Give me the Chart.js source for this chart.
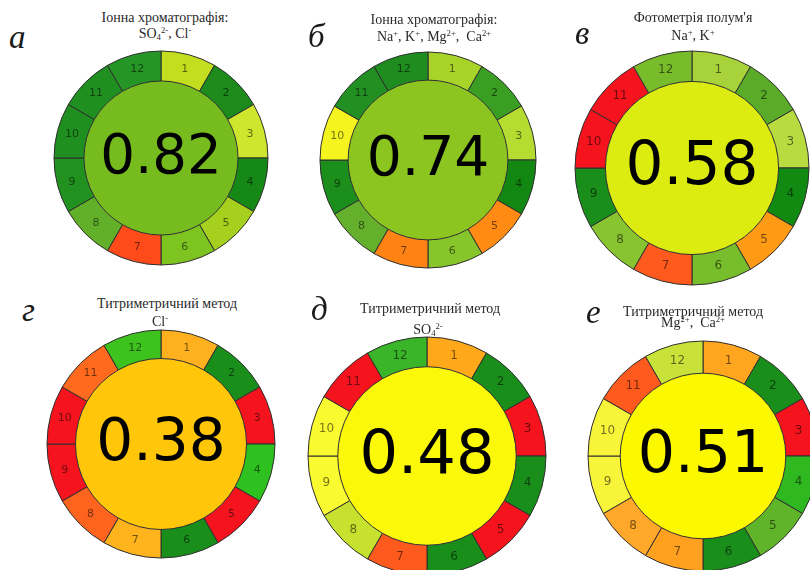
<!DOCTYPE html>
<html>
<head>
<meta charset="utf-8">
<script src="https://cdn.jsdelivr.net/npm/chart.js@4.4.1/dist/chart.umd.min.js"></script>
<style>
  html, body { margin: 0; padding: 0; background: #ffffff; }
  #stage { position: relative; width: 810px; height: 570px; overflow: hidden; background: #fff; }
  .cv { position: absolute; }
  .letter { position: absolute; font-family: "Liberation Serif", "DejaVu Serif", serif; font-style: italic; font-size: 33px; color: #1a1a1a; line-height: 1; }
  .ttl { position: absolute; transform: translate(-50%, -50%); white-space: pre; font-family: "Liberation Serif", "DejaVu Serif", serif; font-size: 14px; color: #2a2a2a; line-height: 1; }
  .ttl sup, .ttl sub { font-size: 0.62em; line-height: 0; }
  .ttl sup { vertical-align: 0.55em; }
  .ttl sub { vertical-align: -0.25em; }
</style>
</head>
<body>
<div id="stage"></div>
<script>
// ---------------- DATA ----------------
const segmentLabels = ['1','2','3','4','5','6','7','8','9','10','11','12'];
const segmentWeights = [1,1,1,1,1,1,1,1,1,1,1,1];
const panelLetters = ['а','б','в','г','д','е'];
const overallScores = [0.82, 0.74, 0.58, 0.38, 0.48, 0.51];
const titleLine1 = [
  'Іонна хроматографія:',
  'Іонна хроматографія:',
  'Фотометрія полум\'я',
  'Титриметричний метод',
  'Титриметричний метод',
  'Титриметричний метод'
];
const titleLine2 = [
  'SO<sub>4</sub><sup>2-</sup>, Cl<sup>-</sup>',
  'Na<sup>+</sup>, K<sup>+</sup>, Mg<sup>2+</sup>,  Ca<sup>2+</sup>',
  'Na<sup>+</sup>, K<sup>+</sup>',
  'Cl<sup>-</sup>',
  'SO<sub>4</sub><sup>2-</sup>',
  'Mg<sup>2+</sup>,  Ca<sup>2+</sup>'
];

// ---------------- STYLES (colours) ----------------
const segColorsA = ['#c2de1e','#1c8b1c','#cfe62e','#168816','#a6d01e','#7ec421','#ff4a1a','#62b02a','#21921f','#1f901f','#1f901f','#259626'];
const segColorsB = ['#a8d42a','#3a9e23','#b5dc30','#128812','#ff8a14','#86c62a','#ff8214','#64b02c','#1c8e1c','#f6f41e','#228f22','#1e8c1e'];
const segColorsC = ['#a8d23a','#5aac28','#b8dc40','#108a10','#ff9a14','#78be2c','#ff5a1e','#88c430','#1a8e1a','#f5141e','#f5141e','#78bc2c'];
const segColorsD = ['#ffb01e','#1a8e1a','#f5141e','#2ec01e','#f5141e','#1a8e1a','#ffb41e','#ff641e','#f5141e','#f5141e','#ff6a1e','#3ec21e'];
const segColorsE = ['#ffa81a','#1a8e1a','#f5141e','#1a8e1a','#f5141e','#1a8e1a','#ff5a1e','#c6e22e','#fafa30','#fafa30','#f5141e','#3ab428'];
const segColorsF = ['#ffa51e','#1a8e1a','#f5141e','#30b820','#60b42a','#1a8e1a','#ffa01e','#ffa82a','#f8f43a','#f8f43a','#ff5a1e','#c8e23a'];
const segColorSets = [segColorsA, segColorsB, segColorsC, segColorsD, segColorsE, segColorsF];
const centerColors = ['#77bc1e','#8cc520','#dcec10','#ffc60a','#fcf80a','#fcf800'];

// ---------------- LAYOUT ----------------
const panelCenters = [[161,158],[428,160],[692,168],[161,444],[427,456],[703,456]];
const panelRadii = [107, 108, 117, 114, 119, 115];
const innerRatio = [0.72, 0.74, 0.74, 0.75, 0.75, 0.72];
const letterPos = [[9,21],[308,20],[575,17],[22,294],[311,293],[586,296]];
const title1Pos = [[165,18],[434,20],[693,18],[167,304],[430,309],[693,312]];
const title2Pos = [[165,34],[434,37],[693,36],[160,322],[428,330],[693,323]];

const stage = document.getElementById('stage');

const labelPlugin = {
  id: 'agreeText',
  afterDatasetsDraw(chart) {
    const ctx = chart.ctx;
    const ring = chart.getDatasetMeta(0);
    const R = ring.data[0].outerRadius;
    ctx.save();
    ctx.textAlign = 'center';
    ctx.textBaseline = 'middle';
    ctx.fillStyle = 'rgba(0,0,0,0.55)';
    ctx.font = Math.round(R * 0.1) + 'px "DejaVu Sans", sans-serif';
    ring.data.forEach((arc, i) => {
      const p = arc.getProps(['x','y','startAngle','endAngle','innerRadius','outerRadius'], true);
      const a = (p.startAngle + p.endAngle) / 2;
      const r = (p.innerRadius + p.outerRadius) / 2;
      ctx.fillText(chart.data.labels[i], p.x + Math.cos(a) * r, p.y + Math.sin(a) * r);
    });
    const disc = chart.getDatasetMeta(1).data[0];
    const F = R * 0.51;
    ctx.fillStyle = '#000';
    ctx.textBaseline = 'alphabetic';
    ctx.font = F.toFixed(1) + 'px "DejaVu Sans", sans-serif';
    ctx.fillText(chart.options.plugins.agreeText.score.toFixed(2), disc.x, disc.y + 0.275 * F);
    ctx.restore();
  }
};

for (let k = 0; k < 6; k++) {
  const R = panelRadii[k];
  const size = Math.ceil(2 * R + 6);
  const cv = document.createElement('canvas');
  cv.className = 'cv';
  cv.width = size; cv.height = size;
  cv.style.width = size + 'px'; cv.style.height = size + 'px';
  cv.style.left = (panelCenters[k][0] - size / 2) + 'px';
  cv.style.top = (panelCenters[k][1] - size / 2) + 'px';
  stage.appendChild(cv);

  const ir = innerRatio[k];
  new Chart(cv.getContext('2d'), {
    type: 'doughnut',
    data: {
      labels: segmentLabels,
      datasets: [
        { data: segmentWeights, backgroundColor: segColorSets[k], borderColor: '#2e2e2e', borderWidth: 1, weight: 1 - ir, hoverOffset: 0 },
        { data: [overallScores[k]], backgroundColor: [centerColors[k]], borderWidth: 0, weight: ir, hoverOffset: 0 }
      ]
    },
    options: {
      responsive: false,
      animation: false,
      cutout: 0,
      radius: R,
      layout: { padding: 0 },
      events: [],
      plugins: { legend: { display: false }, tooltip: { enabled: false }, agreeText: { score: overallScores[k] } }
    },
    plugins: [labelPlugin]
  });

  const L = document.createElement('div');
  L.className = 'letter';
  L.textContent = panelLetters[k];
  L.style.left = letterPos[k][0] + 'px';
  L.style.top = letterPos[k][1] + 'px';
  stage.appendChild(L);

  const t1 = document.createElement('div');
  t1.className = 'ttl';
  t1.textContent = titleLine1[k];
  t1.style.left = title1Pos[k][0] + 'px';
  t1.style.top = title1Pos[k][1] + 'px';
  stage.appendChild(t1);

  const t2 = document.createElement('div');
  t2.className = 'ttl';
  t2.innerHTML = titleLine2[k];
  t2.style.left = title2Pos[k][0] + 'px';
  t2.style.top = title2Pos[k][1] + 'px';
  stage.appendChild(t2);
}
</script>
</body>
</html>
